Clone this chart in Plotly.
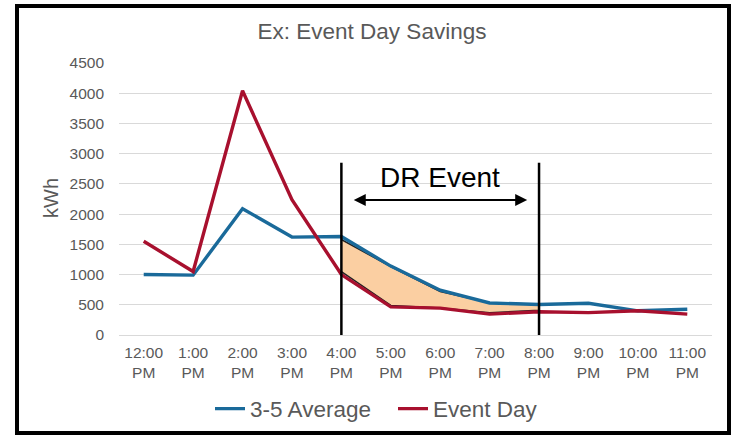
import plotly.graph_objects as go

hours = ["12:00<br>PM", "1:00<br>PM", "2:00<br>PM", "3:00<br>PM", "4:00<br>PM", "5:00<br>PM",
         "6:00<br>PM", "7:00<br>PM", "8:00<br>PM", "9:00<br>PM", "10:00<br>PM", "11:00<br>PM"]
avg_3_5 = [1000, 990, 2090, 1620, 1630, 1140, 740, 530, 505, 525, 400, 425]
event_day = [1550, 1050, 4040, 2240, 1000, 465, 445, 345, 385, 370, 400, 345]

# savings polygon (event window 4PM-8PM)
event_hours = hours[4:9]
savings_upper = [1580, 1130, 720, 535, 510]
savings_lower = [1050, 490, 445, 370, 410]

event_start, event_end = 4, 8
event_line_top = 2850
arrow_y = 2235
label_y = 2600

BLUE = "#1a6a9a"
RED = "#a8102e"
FILL = "#fbcfa2"
GREY = "#595959"
FONT = "Liberation Sans, Arial, sans-serif"

fig = go.Figure()

fig.add_trace(go.Scatter(
    x=event_hours + event_hours[::-1],
    y=savings_upper + savings_lower[::-1],
    fill="toself", fillcolor=FILL, mode="lines",
    line=dict(color="#222222", width=1.5), showlegend=False, hoverinfo="skip"))

fig.add_trace(go.Scatter(x=hours, y=avg_3_5, mode="lines", name="3-5 Average",
                         line=dict(color=BLUE, width=3.4)))
fig.add_trace(go.Scatter(x=hours, y=event_day, mode="lines", name="Event Day",
                         line=dict(color=RED, width=3.4)))

for xi in (event_start, event_end):
    fig.add_shape(type="line", xref="x", yref="y", x0=xi, x1=xi, y0=0, y1=event_line_top,
                  line=dict(color="black", width=2.5))

fig.add_annotation(x=event_end - 0.24, y=arrow_y, ax=event_start + 0.22, ay=arrow_y,
                   xref="x", yref="y", axref="x", ayref="y", text="",
                   showarrow=True, arrowhead=2, startarrowhead=2, arrowside="end+start",
                   arrowsize=1.2, arrowwidth=2, arrowcolor="black")
fig.add_annotation(x=6.0, y=label_y, xref="x", yref="y", text="DR Event", showarrow=False,
                   font=dict(size=28, color="black", family=FONT))

L, R, T, B = 119, 712, 63, 335
def px(xp): return (xp - L) / (R - L)
def py(yp): return (B - yp) / (B - T)

# y axis title
fig.add_annotation(x=px(51), y=py(198), xref="paper", yref="paper", text="kWh", showarrow=False,
                   xanchor="center", yanchor="middle",
                   textangle=-90, font=dict(size=20, color=GREY, family=FONT))

# outer border
fig.add_shape(type="rect", xref="paper", yref="paper", x0=px(17), x1=px(729), y0=py(433), y1=py(6),
              line=dict(color="black", width=4))

fig.update_layout(
    width=732, height=436,
    margin=dict(l=L, r=732 - R, t=T, b=436 - B, autoexpand=False),
    paper_bgcolor="white", plot_bgcolor="white",
    font=dict(family=FONT, color=GREY, size=15.5),
    title=dict(text="Ex: Event Day Savings", x=372 / 732, xanchor="center", y=1 - 31 / 436,
               yanchor="middle", font=dict(size=22.5, color=GREY, family=FONT)),
    legend=dict(orientation="h", x=px(393), xanchor="center", y=py(409), yanchor="middle",
                font=dict(size=22.5, color=GREY, family=FONT), entrywidth=138),
    showlegend=True,
)
fig.update_xaxes(type="category", categoryorder="array", categoryarray=hours,
                 range=[-0.5, 11.5], showgrid=False, zeroline=False, automargin=False,
                 showline=False, tickfont=dict(size=15.5, color=GREY), ticks="",
                 ticklabelstandoff=6)
fig.update_yaxes(range=[0, 4500], dtick=500, showgrid=True, gridcolor="#d9d9d9", gridwidth=1,
                 zeroline=True, zerolinecolor="#d9d9d9", zerolinewidth=1, showline=False,
                 automargin=False,
                 tickfont=dict(size=15.5, color=GREY), ticks="", ticklabelstandoff=14)

fig.write_html("out.html", config={"displayModeBar": False},
               post_script="document.body.style.margin='0';")
